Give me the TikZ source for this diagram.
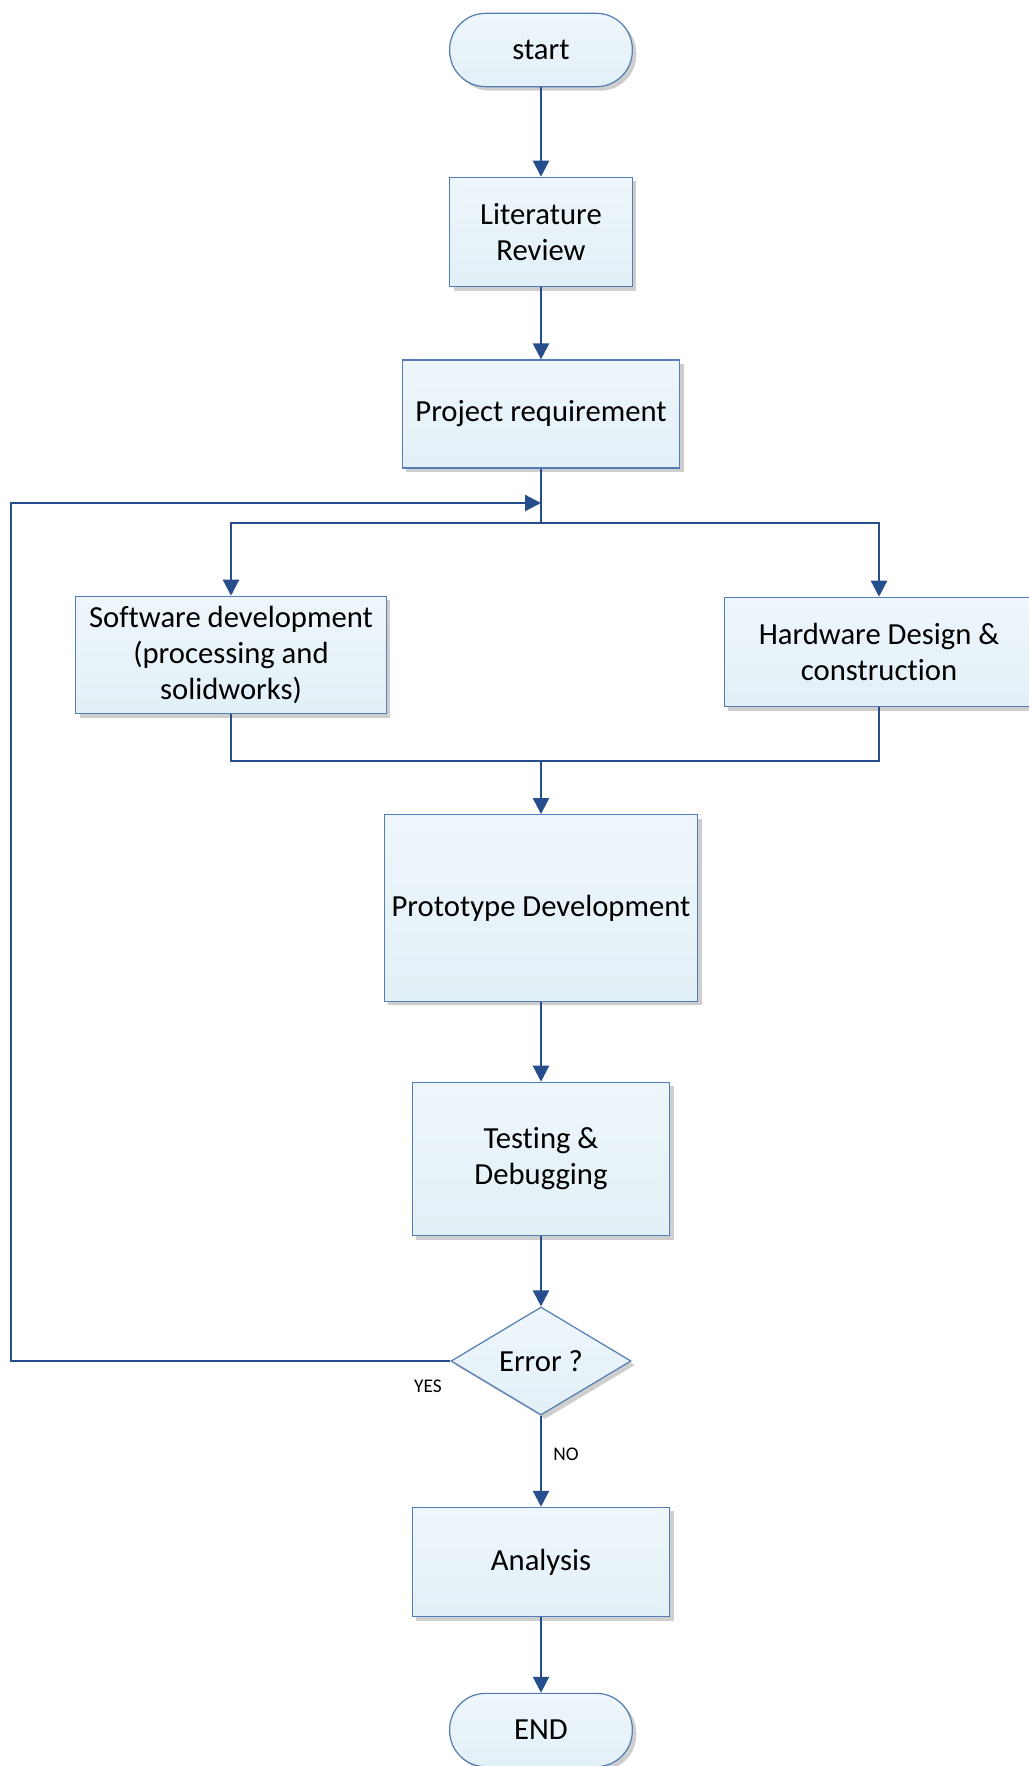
\documentclass[tikz,border=0pt]{standalone}
\usepackage{fontspec}
\setmainfont{Carlito}[Ligatures={NoCommon}]
\usetikzlibrary{arrows.meta,shapes.geometric,shadows}

\definecolor{linkblue}{RGB}{38,78,140}
\definecolor{rimblue}{RGB}{84,124,182}
\definecolor{filltop}{RGB}{238,246,251}
\definecolor{fillbot}{RGB}{226,240,247}

\tikzset{
  px/.style={x=0.75pt,y=-0.75pt},
  block/.style={draw=rimblue, line width=0.9pt, top color=filltop, bottom color=fillbot,
    drop shadow={shadow xshift=3pt, shadow yshift=-3pt, fill=black!38},
    align=center, inner sep=2pt, font=\fontsize{23}{27}\selectfont},
  terminal/.style={block, rounded corners=27pt, minimum width=137pt, minimum height=55pt},
  decision/.style={block, diamond, inner sep=0pt, minimum width=135pt, minimum height=81pt},
  link/.style={draw=linkblue, line width=1.7pt},
  flow/.style={link, -{Triangle[width=12pt,length=12pt]}},
  tag/.style={font=\fontsize{14.5}{17}\selectfont}
}

\begin{document}
\begin{tikzpicture}[px]
  \useasboundingbox (0,0) rectangle (1028,1766);
  \fill[white] (0,0) rectangle (1028,1766);

  % process steps
  \node[terminal] (start) at (541,50) {start};
  \node[block, minimum width=137pt, minimum height=82pt] (lit) at (541,232) {Literature\\Review};
  \node[block, minimum width=208pt, minimum height=81pt] (proj) at (541,414) {Project requirement};
  \node[block, minimum width=233pt, minimum height=88pt] (soft) at (231,655) {Software development\\(processing and\\solidworks)};
  \node[block, minimum width=232pt, minimum height=82pt] (hard) at (879,652) {Hardware Design \&\\construction};
  \node[block, minimum width=235pt, minimum height=140pt] (proto) at (541,908) {Prototype Development};
  \node[block, minimum width=193pt, minimum height=115pt] (test) at (541,1159) {Testing \&\\Debugging};
  \node[decision] (err) at (541,1361) {Error ?};
  \node[block, minimum width=193pt, minimum height=82pt] (anal) at (541,1562) {Analysis};
  \node[terminal] (end) at (541,1730) {END};

  % routing points
  \coordinate (split) at (541,523);
  \coordinate (merge) at (541,761);
  \coordinate (back) at (541,503);
  \coordinate (lowleft) at (11,1361);
  \coordinate (upleft) at (11,503);

  % connectors
  \draw[flow] (start) -- (lit);
  \draw[flow] (lit) -- (proj);
  \draw[link] (proj.south) -- (split);
  \draw[flow] (split) -| (soft.north);
  \draw[flow] (split) -| (hard.north);
  \draw[link] (soft.south) |- (merge);
  \draw[link] (hard.south) |- (merge);
  \draw[flow] (merge) -- (proto.north);
  \draw[flow] (proto) -- (test);
  \draw[flow] (test) -- (err);
  \draw[flow] (err) -- (anal);
  \draw[flow] (anal) -- (end);
  \draw[flow] (err.west) -- (lowleft) -- (upleft) -- (back);

  % decision labels
  \node[tag] (yes) at (428,1386) {YES};
  \node[tag] (no) at (566,1454) {NO};
\end{tikzpicture}
\end{document}
